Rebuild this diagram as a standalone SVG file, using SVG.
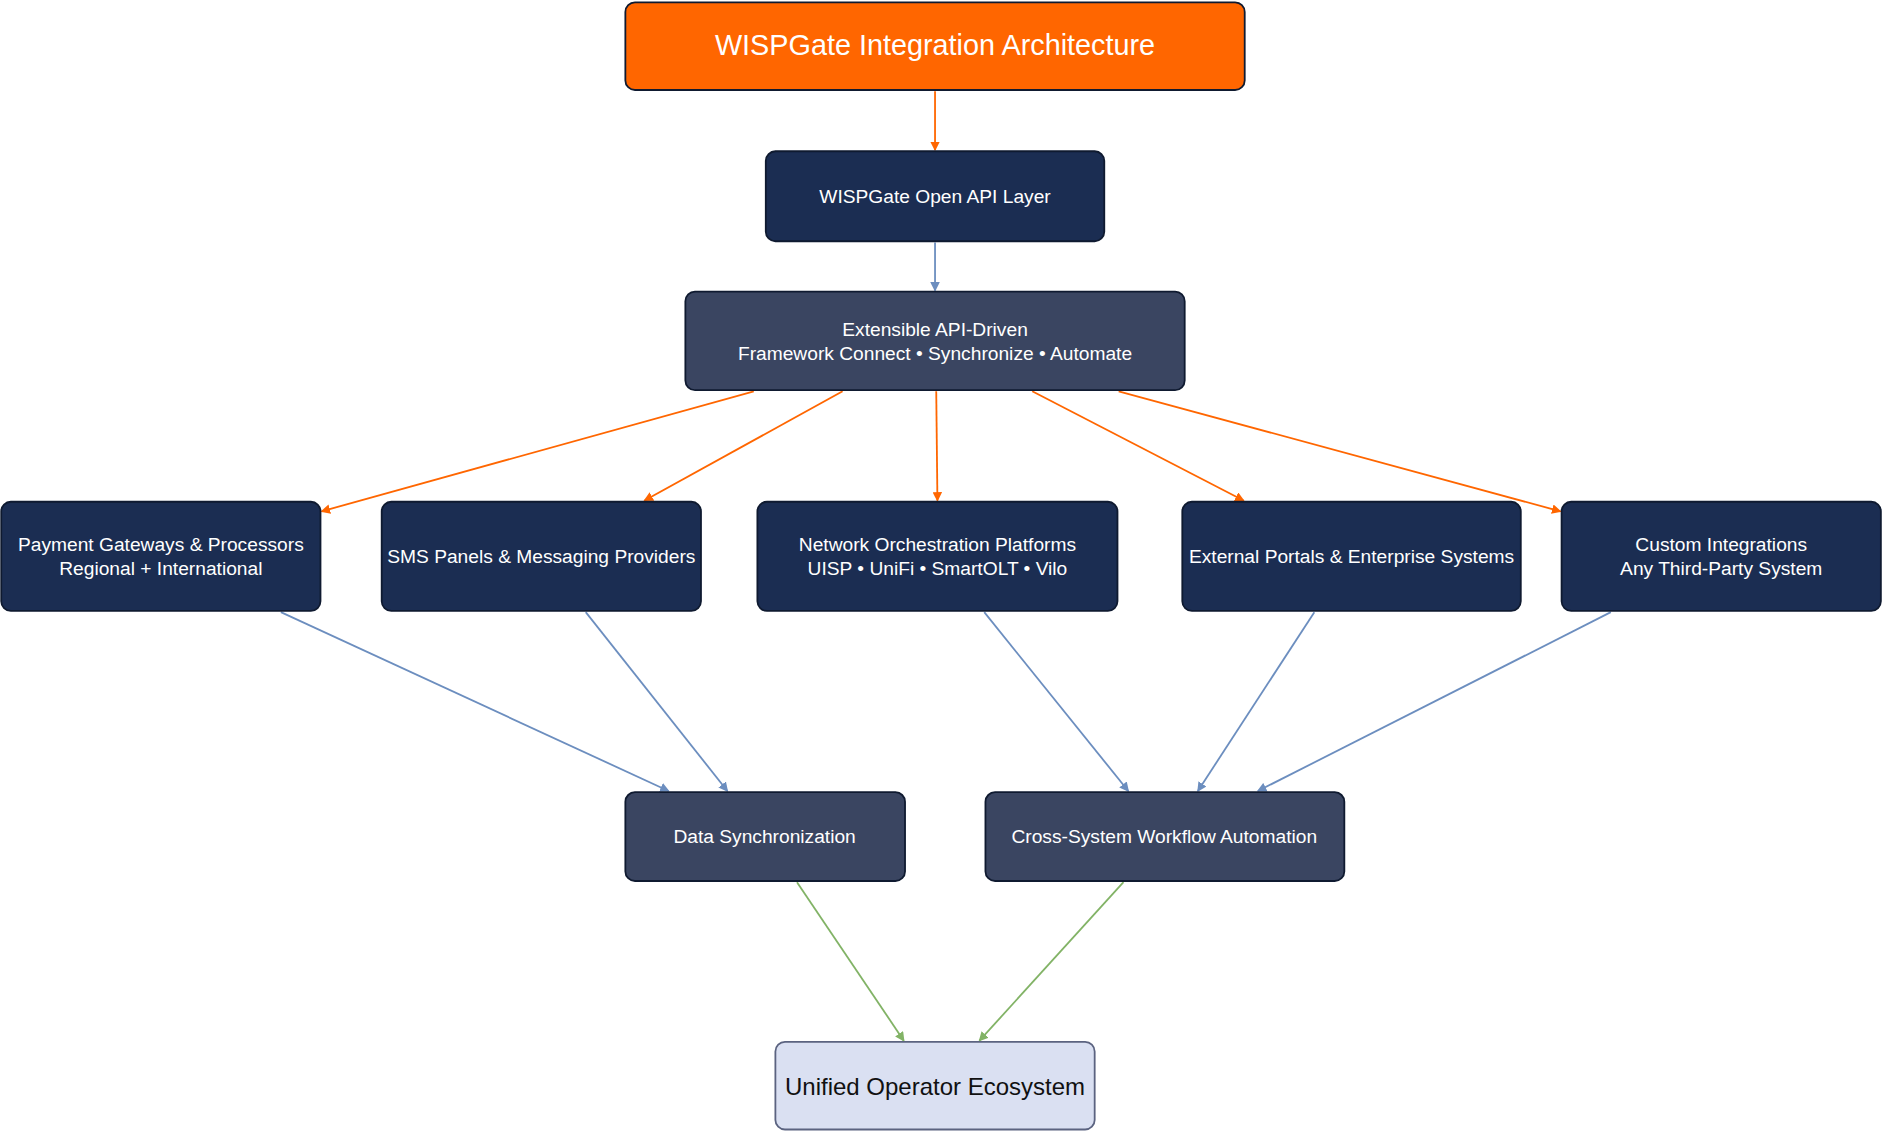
<svg xmlns="http://www.w3.org/2000/svg" width="1882" height="1132" viewBox="0 0 1882 1132">
<defs>
<style>
.n{stroke:#0f1a30;stroke-width:1.5}
.d{fill:#1b2d52}.m{fill:#3a4561}
t,text{font-family:"Liberation Sans",Arial,sans-serif;text-anchor:middle}
.w{fill:#fff;font-size:16px}
.o{stroke:#ff6600;stroke-width:1.5;fill:none;marker-end:url(#ao)}
.b{stroke:#6c8ebf;stroke-width:1.5;fill:none;marker-end:url(#ab)}
.g{stroke:#82b366;stroke-width:1.5;fill:none;marker-end:url(#ag)}
</style>
<marker id="ao" markerWidth="8" markerHeight="8" refX="7" refY="4" orient="auto" markerUnits="userSpaceOnUse"><path d="M0,0L8,4L0,8z" fill="#ff6600"/></marker>
<marker id="ab" markerWidth="8" markerHeight="8" refX="7" refY="4" orient="auto" markerUnits="userSpaceOnUse"><path d="M0,0L8,4L0,8z" fill="#6c8ebf"/></marker>
<marker id="ag" markerWidth="8" markerHeight="8" refX="7" refY="4" orient="auto" markerUnits="userSpaceOnUse"><path d="M0,0L8,4L0,8z" fill="#82b366"/></marker>
</defs>
<rect width="1882" height="1132" fill="#fff"/>
<g transform="scale(1.2003)">
<g id="edges">
<path class="o" d="M779,76V125"/>
<path class="b" d="M779,202V242"/>
<path class="o" d="M628,326L268,426"/>
<path class="o" d="M702,326L537,417"/>
<path class="o" d="M780,326L781,417"/>
<path class="o" d="M860,326L1036,417"/>
<path class="o" d="M932,326L1300,426"/>
<path class="b" d="M234,510L557,659"/>
<path class="b" d="M488,510L606,659"/>
<path class="b" d="M820,510L940,659"/>
<path class="b" d="M1095,510L998,659"/>
<path class="b" d="M1342,510L1048,659"/>
<path class="g" d="M664,735L753,867"/>
<path class="g" d="M936,735L816,867"/>
</g>
<g id="title"><rect x="521" y="2" width="516" height="73" rx="8" fill="#ff6600" class="n"/><text x="779" y="46" fill="#fff" font-size="24">WISPGate Integration Architecture</text></g>
<g id="api"><rect x="638" y="126" width="282" height="75" rx="8" class="n d"/><text class="w" x="779" y="169">WISPGate Open API Layer</text></g>
<g id="framework"><rect x="571" y="243" width="416" height="82" rx="8" class="n m"/><text class="w" x="779" y="280">Extensible API-Driven</text><text class="w" x="779" y="300">Framework Connect • Synchronize • Automate</text></g>
<g id="payment"><rect x="1" y="418" width="266" height="91" rx="8" class="n d"/><text class="w" x="134" y="459">Payment Gateways &amp; Processors</text><text class="w" x="134" y="479">Regional + International</text></g>
<g id="sms"><rect x="318" y="418" width="266" height="91" rx="8" class="n d"/><text class="w" x="451" y="469">SMS Panels &amp; Messaging Providers</text></g>
<g id="network"><rect x="631" y="418" width="300" height="91" rx="8" class="n d"/><text class="w" x="781" y="459">Network Orchestration Platforms</text><text class="w" x="781" y="479">UISP • UniFi • SmartOLT • Vilo</text></g>
<g id="portals"><rect x="985" y="418" width="282" height="91" rx="8" class="n d"/><text class="w" x="1126" y="469">External Portals &amp; Enterprise Systems</text></g>
<g id="custom"><rect x="1301" y="418" width="266" height="91" rx="8" class="n d"/><text class="w" x="1434" y="459">Custom Integrations</text><text class="w" x="1434" y="479">Any Third-Party System</text></g>
<g id="datasync"><rect x="521" y="660" width="233" height="74" rx="8" class="n m"/><text class="w" x="637" y="702">Data Synchronization</text></g>
<g id="workflow"><rect x="821" y="660" width="299" height="74" rx="8" class="n m"/><text class="w" x="970" y="702">Cross-System Workflow Automation</text></g>
<g id="unified"><rect x="646" y="868" width="266" height="73" rx="8" fill="#dae0f2" stroke="#5b6380" stroke-width="1.5"/><text x="779" y="912" font-size="20" fill="#111">Unified Operator Ecosystem</text></g>
</g>
</svg>
